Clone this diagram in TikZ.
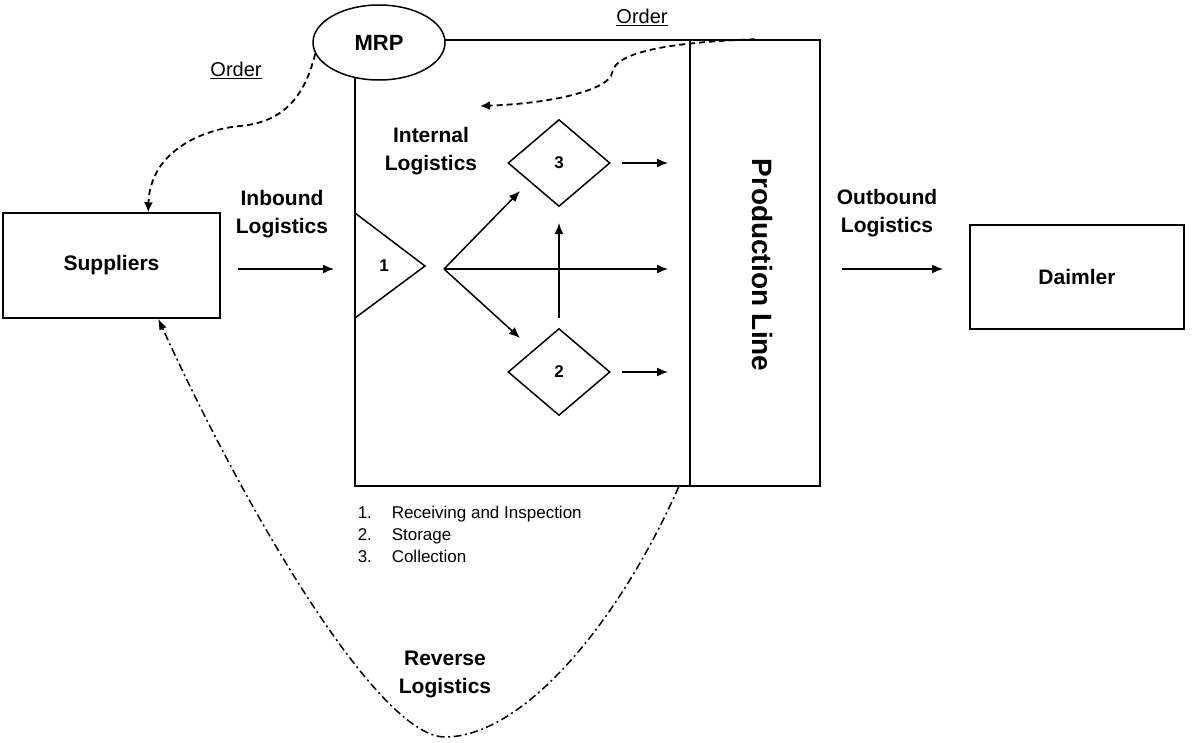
\documentclass[tikz,border=0pt]{standalone}
\usepackage{fontspec}
\setmainfont{Liberation Sans}
\usetikzlibrary{shapes.geometric,arrows.meta,calc}
\begin{document}
\begin{tikzpicture}[x=1pt,y=-1pt,
  line width=1.5pt,
  frame/.style={draw, inner sep=0pt},
  lbl/.style={font=\bfseries\fontsize{21}{28}\selectfont, align=center},
  numtxt/.style={font=\bfseries\fontsize{17}{20}\selectfont},
  ordertxt/.style={font=\fontsize{20}{24}\selectfont},
  flow/.style={-{Latex[length=11pt,width=9pt]}},
  orderline/.style={dash pattern=on 6pt off 4pt, line width=1.8pt, -{Latex[length=10pt,width=9pt]}},
  reverseline/.style={dash pattern=on 8pt off 3.5pt on 2pt off 3.5pt, line width=1.5pt, -{Latex[length=11pt,width=8pt]}},
  stage/.style={draw, diamond, minimum width=102pt, minimum height=87pt, inner sep=0pt, numtxt}
]
\useasboundingbox (0,0) rectangle (1193,742);

% outer partners
\node[frame, minimum width=217pt, minimum height=105pt, lbl] (sup) at (111.5,265.5) {Suppliers};
\node[frame, minimum width=214pt, minimum height=104pt, lbl] (daim) at (1077,277) {Daimler};

% plant: internal logistics area and production line
\node[frame, minimum width=335pt, minimum height=446pt] (int) at (522.5,263) {};
\node[frame, minimum width=130pt, minimum height=446pt] (prod) at (755,263) {};
\node[font=\bfseries\fontsize{28}{32}\selectfont, rotate=-90] (pl) at (762,265) {Production Line};

% MRP sits over the top-left corner of the plant
\node[draw, ellipse, fill=white, minimum width=132pt, minimum height=75pt, inner sep=0pt,
      font=\bfseries\fontsize{22}{26}\selectfont] (mrp) at (379,42.5) {MRP};

% receiving and inspection
\draw (355,213) -- (425,266) -- (355,318);
\node[numtxt] (n1) at (384,266) {1};

% storage and collection
\node[stage] (s3) at (559,163) {3};
\node[stage] (s2) at (559,372) {2};

% internal flows
\coordinate (fork) at (444,269);
\coordinate (to3) at (520,191);
\coordinate (to2) at (520,338);
\coordinate (toPL) at (668,269);
\coordinate (upA) at (559,318);
\coordinate (upB) at (559,223);
\coordinate (out3) at (668,163);
\coordinate (out2) at (668,372);
\draw[flow] (fork) -- (to3);
\draw[flow] (fork) -- (to2);
\draw[flow] (fork) -- (toPL);
\draw[flow] (upA) -- (upB);
\draw[flow] ([xshift=11pt]s3.east) -- (out3);
\draw[flow] ([xshift=11pt]s2.east) -- (out2);

% inbound and outbound flows
\coordinate (inA) at (238,269);
\coordinate (inB) at (334,269);
\coordinate (outA) at (842,269);
\coordinate (outB) at (943,269);
\draw[flow] (inA) -- (inB);
\draw[flow] (outA) -- (outB);

% labels
\node[lbl] (inb) at (282,214) {Inbound\\Logistics};
\node[lbl] (intl) at (431,151) {Internal\\Logistics};
\node[lbl] (outb) at (887,213) {Outbound\\Logistics};
\node[lbl] (rev) at (445,674) {Reverse\\Logistics};
\node[ordertxt] (ord1) at (236,70) {\underline{Order}};
\node[ordertxt] (ord2) at (642,17) {\underline{Order}};

% legend
\node[anchor=north west, inner sep=0pt, align=left, font=\fontsize{17}{22}\selectfont] (legend) at (357,505)
  {\makebox[34pt][l]{1.}Receiving and Inspection\\
   \makebox[34pt][l]{2.}Storage\\
   \makebox[34pt][l]{3.}Collection};

% order signals
\coordinate (ordtip) at (480,106);
\draw[orderline] (mrp.190) .. controls (305,95) and (285,122) .. (240,126)
  .. controls (205,129) and (150,150) .. ($(sup.north west)!0.668!(sup.north east)$);
\draw[orderline] (prod.north) .. controls (680,42) and (615,50) .. (612,73)
  .. controls (610,88) and (560,103) .. (ordtip);

% reverse logistics
\coordinate (revstart) at ($(int.south east)+(-12,0)$);
\draw[reverseline] (revstart) .. controls (615,630) and (520,737) .. (445,737)
  .. controls (380,737) and (250,520) .. ($(sup.south west)!0.714!(sup.south east)$);
\end{tikzpicture}
\end{document}
